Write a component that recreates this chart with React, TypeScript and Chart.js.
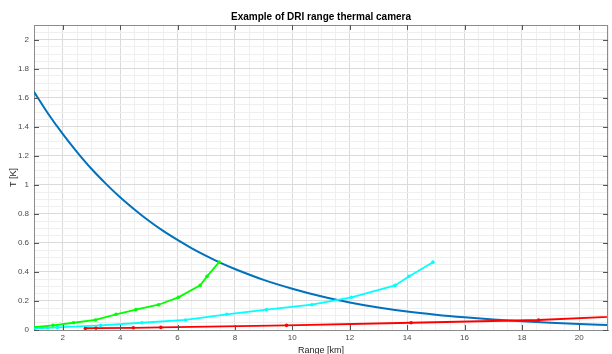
import React, { useEffect, useRef } from 'react';
import { Chart, registerables } from 'chart.js';

Chart.register(...registerables);

const TITLE = 'Example of DRI range thermal camera';
const X_LABEL = 'Range [km]';
const Y_LABEL = 'T [K]';
const X_MIN = 1;
const X_MAX = 21;
const Y_MIN = 0;
const Y_MAX = 2.1;
const X_TICK_LABELS = ['2', '4', '6', '8', '10', '12', '14', '16', '18', '20'];
const Y_TICK_LABELS = ['0', '0.2', '0.4', '0.6', '0.8', '1', '1.2', '1.4', '1.6', '1.8', '2'];

// Threshold curve (blue)
const blueX = [1, 1.5, 2, 2.5, 3, 3.5, 4, 4.5, 5, 5.5, 6, 6.5, 7, 7.5, 8, 9, 10, 11, 12, 13, 14, 15, 16, 17, 18, 19, 20, 21];
const blueY = [1.64, 1.487, 1.35, 1.225, 1.11, 1.008, 0.914, 0.83, 0.752, 0.682, 0.62, 0.562, 0.51, 0.462, 0.42, 0.345, 0.284, 0.232, 0.19, 0.155, 0.127, 0.105, 0.087, 0.072, 0.06, 0.05, 0.041, 0.034];

// Detection / Recognition / Identification curves
const greenX = [0.465, 0.53, 0.74, 0.905, 1.66, 2.38, 3.14, 3.86, 4.55, 5.34, 6.03, 6.79, 7.03, 7.45];
const greenY = [0.012, 0.013, 0.015, 0.018, 0.032, 0.05, 0.069, 0.108, 0.14, 0.174, 0.225, 0.307, 0.369, 0.467];

const cyanX = [0.93, 1.06, 1.48, 1.81, 3.32, 4.76, 6.28, 7.72, 9.1, 10.68, 12.06, 13.58, 14.06, 14.9];
const cyanY = [0.012, 0.013, 0.015, 0.018, 0.032, 0.05, 0.069, 0.108, 0.14, 0.174, 0.225, 0.307, 0.369, 0.467];

const redX = [2.79, 3.16, 4.46, 5.42, 9.8, 14.14, 18.58, 22.9];
const redY = [0.012, 0.013, 0.015, 0.018, 0.032, 0.05, 0.069, 0.108];

const FONT = 'Liberation Sans, Arial, Helvetica, sans-serif';

const toPts = (xs: number[], ys: number[]) => xs.map((x, i) => ({ x, y: ys[i] }));

const isXMajor = (v: number) => X_TICK_LABELS.includes(String(Math.round(v * 1000) / 1000));
const isYMajor = (v: number) => Y_TICK_LABELS.includes(String(Math.round(v * 1000) / 1000));

const framePlugin = {
  id: 'frame',
  afterDraw(chart: any) {
    const { ctx, chartArea } = chart;
    const { left, right, top, bottom } = chartArea;
    const xs = chart.scales.x;
    const ys = chart.scales.y;
    ctx.save();
    ctx.strokeStyle = '#8c8c8c';
    ctx.lineWidth = 1;
    ctx.beginPath();
    ctx.moveTo(left, top + 0.5);
    ctx.lineTo(right, top + 0.5);
    ctx.moveTo(right - 0.5, top);
    ctx.lineTo(right - 0.5, bottom);
    ctx.stroke();
    ctx.strokeStyle = '#555';
    ctx.beginPath();
    X_TICK_LABELS.forEach((t) => {
      const px = Math.round(xs.getPixelForValue(Number(t))) + 0.5;
      ctx.moveTo(px, bottom);
      ctx.lineTo(px, bottom - 5);
      ctx.moveTo(px, top);
      ctx.lineTo(px, top + 5);
    });
    Y_TICK_LABELS.forEach((t) => {
      const py = Math.round(ys.getPixelForValue(Number(t))) + 0.5;
      ctx.moveTo(left, py);
      ctx.lineTo(left + 5, py);
      ctx.moveTo(right, py);
      ctx.lineTo(right - 5, py);
    });
    ctx.stroke();
    ctx.restore();
  },
};

export default function App() {
  const ref = useRef<HTMLCanvasElement | null>(null);
  useEffect(() => {
    if (!ref.current) return;
    const lineDs = (label: string, xs: number[], ys: number[], color: string, order: number, markers: boolean, width: number) => ({
      label,
      data: toPts(xs, ys),
      borderColor: color,
      backgroundColor: color,
      borderWidth: width,
      pointRadius: markers ? 1.8 : 0,
      pointBorderWidth: 0,
      pointBackgroundColor: color,
      tension: 0,
      fill: false,
      clip: 0,
      order,
    });
    const chart = new Chart(ref.current, {
      type: 'line',
      data: {
        datasets: [
          { ...lineDs('Threshold', blueX, blueY, '#0072BD', 4, false, 2), cubicInterpolationMode: 'monotone' as const },
          lineDs('Identification', redX, redY, '#FF0000', 3, true, 1.8),
          lineDs('Recognition', cyanX, cyanY, '#00FFFF', 2, true, 1.8),
          lineDs('Detection', greenX, greenY, '#00FF00', 1, true, 1.8),
        ],
      },
      options: {
        animation: false,
        responsive: false,
        maintainAspectRatio: false,
        layout: { padding: 0 },
        plugins: {
          legend: { display: false },
          tooltip: { enabled: false },
          title: {
            display: true,
            text: TITLE,
            fullSize: false,
            color: '#000',
            font: { family: FONT, size: 10, weight: 'bold', lineHeight: 1.2 },
            padding: { top: 11, bottom: 2 },
          },
        },
        scales: {
          x: {
            type: 'linear',
            min: X_MIN,
            max: X_MAX,
            afterFit: (s: any) => { s.height = 24; },
            ticks: {
              stepSize: 0.5,
              autoSkip: false,
              maxRotation: 0,
              padding: 3,
              color: '#4a4a4a',
              font: { family: FONT, size: 8 },
              callback: (v: any) => (isXMajor(Number(v)) ? String(Math.round(Number(v) * 1000) / 1000) : ''),
            },
            grid: {
              drawTicks: false,
              lineWidth: 1,
              color: (c: any) => (c.tick && isXMajor(c.tick.value) ? '#dadada' : '#efefef'),
            },
            border: { display: true, color: '#8c8c8c', width: 1 },
            title: {
              display: true,
              text: X_LABEL,
              color: '#262626',
              font: { family: FONT, size: 9 },
              padding: { top: 0, bottom: -2 },
            },
          },
          y: {
            type: 'linear',
            min: Y_MIN,
            max: Y_MAX,
            afterFit: (s: any) => { s.width = 34; },
            ticks: {
              stepSize: 0.05,
              autoSkip: false,
              padding: 5,
              color: '#4a4a4a',
              font: { family: FONT, size: 8 },
              callback: (v: any) => (isYMajor(Number(v)) ? String(Math.round(Number(v) * 1000) / 1000) : ''),
            },
            grid: {
              drawTicks: false,
              lineWidth: 1,
              color: (c: any) => (c.tick && isYMajor(c.tick.value) ? '#dadada' : '#efefef'),
            },
            border: { display: true, color: '#8c8c8c', width: 1 },
            title: {
              display: true,
              text: Y_LABEL,
              color: '#262626',
              font: { family: FONT, size: 9 },
              padding: { top: 8, bottom: 0 },
            },
          },
        },
      },
      plugins: [framePlugin],
    } as any);
    return () => chart.destroy();
  }, []);
  return (
    <div style={{ position: 'fixed', left: 0, top: 0, width: 612, height: 354, background: '#fff' }}>
      <canvas ref={ref} width={612} height={354} style={{ width: 612, height: 354, display: 'block' }} />
    </div>
  );
}
